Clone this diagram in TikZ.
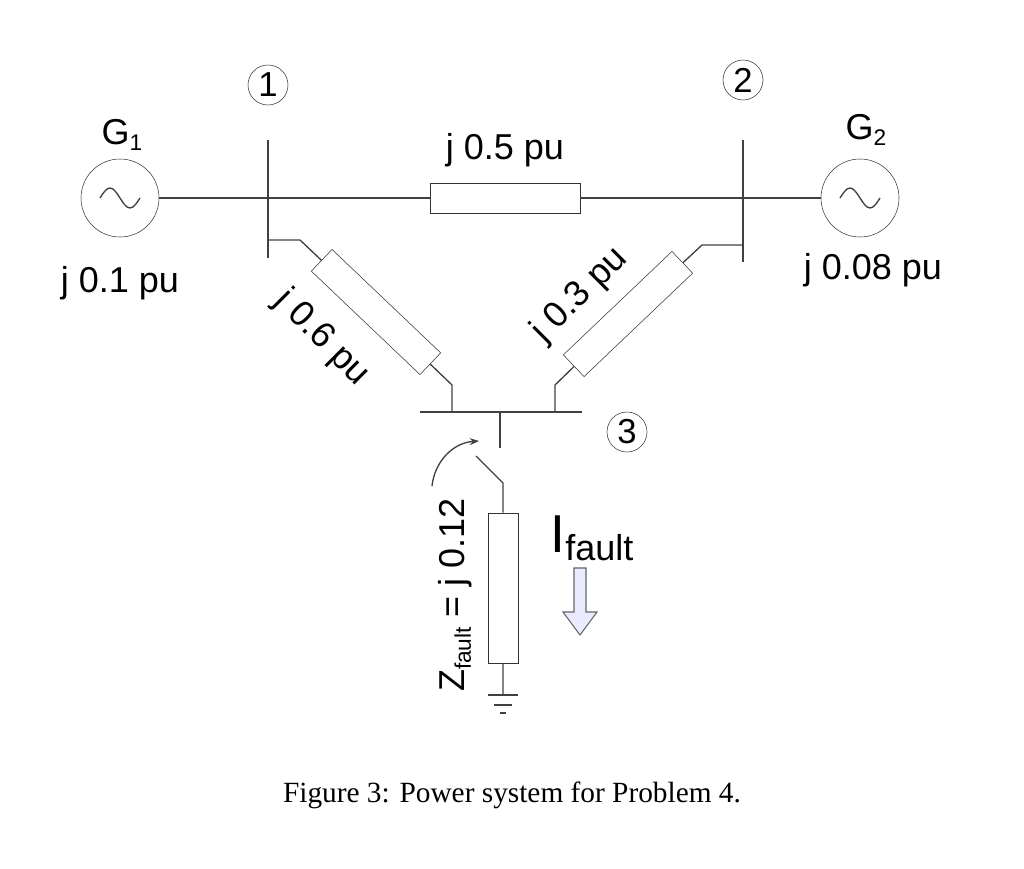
\documentclass[tikz,border=0pt]{standalone}
\usepackage{fontspec}
\setmainfont{Liberation Sans}
\newfontfamily\capfont{Liberation Serif}
\usetikzlibrary{arrows.meta}
\tikzset{
	imp/.style={draw=black!80,fill=white,minimum width=150pt*0.75,minimum height=30pt*0.75,inner sep=0pt},
	gen/.style={draw=black!80,circle,minimum size=78pt*0.75,inner sep=0pt},
	busno/.style={draw=black!80,circle,minimum size=40pt*0.75,inner sep=0pt,font=\fontsize{26}{28}\selectfont},
	lbl/.style={font=\fontsize{27}{30}\selectfont,inner sep=0pt},
	wire/.style={black!75,line width=1pt}
}
\begin{document}
\begin{tikzpicture}[x=0.75pt,y=-0.75pt]
			\useasboundingbox (0,0) rectangle (1024,868);
			% generators
			\node [gen] (g1) at (120,198) {};
			\node [gen] (g2) at (860,198) {};
			\draw [wire] (100,198) sin (110,188) cos (120,198) sin (130,208) cos (140,198);
			\draw [wire] (840,198) sin (850,188) cos (860,198) sin (870,208) cos (880,198);
			\node [lbl] at (122,135) {G\raisebox{-4pt}{\fontsize{17}{17}\selectfont 1}};
			\node [lbl] at (866,130) {G\raisebox{-4pt}{\fontsize{17}{17}\selectfont 2}};
			\node [lbl] at (120,283) {j 0.1 pu};
			\node [lbl] at (873,270) {j 0.08 pu};
			% buses
			\coordinate (b1t) at (268,140); \coordinate (b1b) at (268,258);
			\coordinate (b2t) at (743,140); \coordinate (b2b) at (743,262);
			\coordinate (b3l) at (420,412); \coordinate (b3r) at (582,412);
			\draw [wire] (b1t) -- (b1b);
			\draw [wire] (b2t) -- (b2b);
			\draw [wire] (b3l) -- (b3r);
			\node [busno] (n1) at (268,85) {1};
			\node [busno] (n2) at (743,80) {2};
			\node [busno] (n3) at (627,432) {3};
			% line 1-2
			\node [imp] (z12) at (505,198) {};
			\draw [wire] (g1) -- (z12) -- (g2);
			\node [lbl] at (505,150) {j 0.5 pu};
			% line 1-3
			\coordinate (a1) at (268,240); \coordinate (a2) at (300,240);
			\coordinate (a3) at (452,385); \coordinate (a4) at (452,412);
			\node [imp,rotate=-43.6] (z13) at (376,312) {};
			\draw [wire] (a1) -- (a2) -- (z13) -- (a3) -- (a4);
			\node [lbl,rotate=-45] at (322,338) {j 0.6 pu};
			% line 2-3
			\coordinate (c1) at (743,245); \coordinate (c2) at (702,245);
			\coordinate (c3) at (555,385); \coordinate (c4) at (555,412);
			\node [imp,rotate=43.6] (z23) at (628,314) {};
			\draw [wire] (c1) -- (c2) -- (z23) -- (c3) -- (c4);
			\node [lbl,rotate=45] at (580,295) {j 0.3 pu};
			% fault branch
			\coordinate (f1) at (500,412); \coordinate (f2) at (500,448);
			\coordinate (s1) at (476,456); \coordinate (s2) at (503,483);
			\node [imp,rotate=90] (zf) at (503,588) {};
			\coordinate (gnd) at (503,695);
			\draw [wire] (f1) -- (f2);
			\draw [wire] (s1) -- (s2) -- (zf) -- (gnd);
			\draw [wire] (488,695) -- (518,695);
			\draw [wire] (494,705) -- (512,705);
			\draw [wire] (500,713) -- (506,713);
			\draw [wire,-{Stealth[length=7pt]}] (432,486) to[bend left=40] (479,441);
			\node [lbl,rotate=90] at (455,595) {Z\raisebox{-5pt}{\fontsize{17}{17}\selectfont fault} = j 0.12};
			\node [font=\fontsize{40}{42}\selectfont,inner sep=0pt] at (592,538) {I\raisebox{-6pt}{\fontsize{27}{28}\selectfont fault}};
			\draw [black!60,fill=blue!8,line width=0.8pt] (574,568) -- (586,568) -- (586,612) -- (597,612) -- (580,635) -- (563,612) -- (574,612) -- cycle;
			% caption
			\node [font=\capfont\fontsize{22}{24}\selectfont] at (512,795) {Figure 3: Power system for Problem 4.};
		\end{tikzpicture}
\end{document}
